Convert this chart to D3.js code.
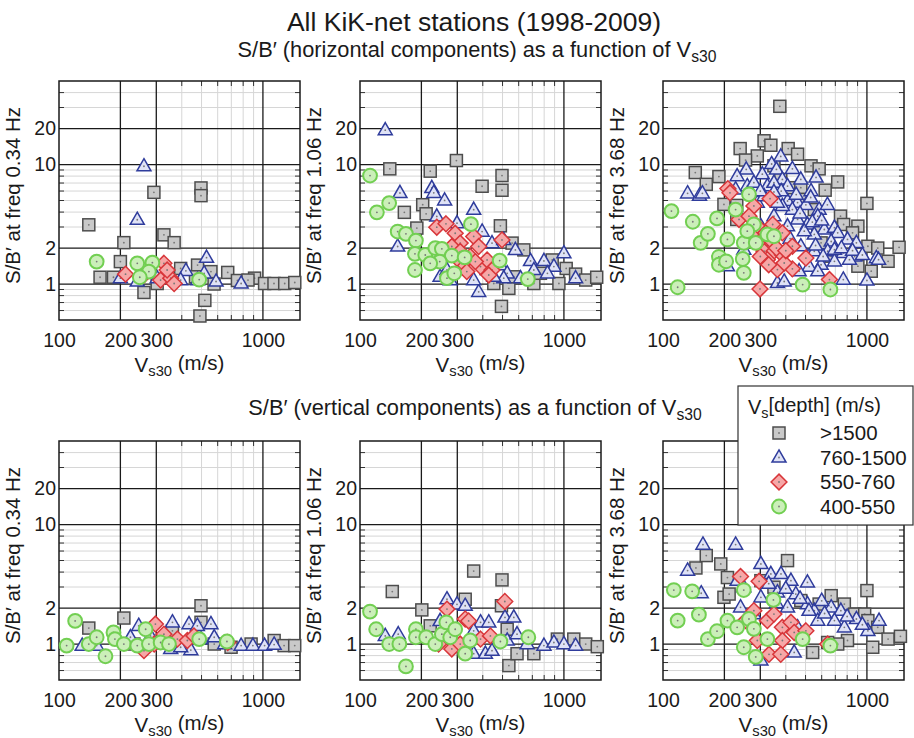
<!DOCTYPE html>
<html>
<head>
<meta charset="utf-8">
<script src="https://cdn.jsdelivr.net/npm/d3@7"></script>
<style>
  body { margin: 0; background: #fff; }
  svg { font-family: "Liberation Sans", Arial, Helvetica, sans-serif; }
</style>
</head>
<body>
<svg id="chart" width="914" height="738"></svg>
<script>
// ---- axis settings ----
const xTicks = [100, 200, 300, 1000];
const yTicks = [1, 2, 10, 20];
const xMajorGrid = [200, 300, 1000];
const yMajorGrid = [1, 2, 10, 20];
const xMinorGrid = [400, 500, 600, 700, 800, 900];
const yMinorGrid = [0.6, 0.7, 0.8, 0.9, 3, 4, 5, 6, 7, 8, 9, 30, 40];
const freqs = ['0.34', '1.06', '3.68'];
const groups = ['>1500', '760-1500', '550-760', '400-550'];

// ---- data: [Vs30 (m/s), S/B'] per depth-velocity group ----
// horizontal, 0.34 Hz
const h034Gray = [[140,3.13],[292,5.85],[497,6.37],[497,5.49],[208,2.22],[327,2.58],[367,2.22],[200,1.54],[159,1.14],[185,1.14],[395,1.35],[478,1.44],[556,1.27],[672,1.25],[910,1.12],[1019,1.01],[1133,1.01],[1279,1.01],[1433,1.03],[261,0.85],[519,0.73],[491,0.54],[303,1.01],[576,1.0],[750,1.07],[467,1.15],[845,1.08]];
const h034Blue = [[261,9.67],[242,3.45],[529,1.66],[419,1.29],[589,1.05],[782,1.01],[200,1.12],[242,1.05],[395,1.08],[478,1.08],[515,1.23],[303,1.12]];
const h034Red = [[212,1.21],[327,1.49],[315,1.08],[353,1.12],[367,1.01],[339,1.31],[261,1.19]];
const h034Green = [[153,1.54],[242,1.49],[287,1.51],[276,1.27],[249,1.14],[487,1.09]];

// horizontal, 1.06 Hz
const h106Gray = [[140,9.2],[221,8.8],[297,10.8],[397,6.58],[497,8.09],[497,6.09],[165,3.98],[203,4.61],[211,3.87],[190,2.94],[488,3.07],[557,2.2],[636,1.93],[876,1.59],[1026,1.35],[1141,1.21],[1279,1.08],[1448,1.14],[537,0.92],[494,0.65],[712,1.01],[945,1.01],[568,1.15],[767,1.23],[453,1.01]];
const h106Blue = [[133,19.4],[157,5.78],[225,6.37],[230,5.8],[260,5.01],[238,3.68],[361,4.19],[153,2.06],[299,3.23],[397,2.75],[444,2.2],[507,2.34],[578,1.93],[686,1.56],[798,1.56],[1000,1.81],[893,1.4],[1141,1.12],[382,0.86],[247,1.15],[267,1.31],[334,1.31],[420,1.31],[488,1.44],[527,1.23],[613,1.12],[712,1.31],[830,1.23],[507,1.12],[277,1.08],[361,1.08],[453,1.15]];
const h106Red = [[238,2.99],[264,3.19],[293,2.66],[310,2.2],[282,2.06],[361,2.5],[382,2.06],[347,1.7],[321,1.49],[299,1.64],[390,1.4],[420,1.59],[444,1.31],[428,1.19],[334,1.27],[497,2.34],[310,1.87],[368,1.54]];
const h106Green = [[112,8.09],[121,3.98],[139,4.76],[153,2.75],[168,2.63],[188,2.31],[186,1.79],[186,1.31],[209,1.75],[234,2.0],[252,1.97],[282,1.73],[246,1.54],[267,1.12],[290,1.23],[326,1.67],[350,3.17],[484,1.57],[665,1.1],[221,1.49]];

// horizontal, 3.68 Hz
const h368Gray = [[374,30.7],[313,15.8],[239,13.6],[290,11.8],[254,10.9],[338,14.5],[411,13.6],[457,12.2],[532,9.75],[583,9.2],[144,8.57],[188,7.93],[163,6.83],[424,6.4],[474,6.4],[624,6.1],[719,7.15],[474,5.11],[199,4.64],[230,3.47],[742,3.7],[1000,4.73],[903,3.05],[769,3.15],[850,2.68],[1011,2.07],[1130,2.0],[1438,2.03],[1270,1.55],[1050,1.28],[903,1.41],[668,1.71],[596,2.21],[574,3.05],[552,4.2],[378,7.5],[350,9.75],[230,4.55]];
const h368Blue = [[132,5.74],[151,5.5],[156,5.74],[378,11.7],[341,10.1],[360,9.1],[256,9.1],[231,8.0],[307,8.3],[431,9.2],[385,7.5],[563,7.8],[325,6.6],[259,6.6],[227,6.2],[532,6.0],[408,4.95],[457,4.8],[502,4.6],[583,4.2],[431,4.2],[385,4.5],[350,3.7],[457,3.47],[511,3.15],[574,3.7],[618,2.86],[693,2.96],[719,2.68],[803,2.36],[888,2.21],[668,2.27],[552,2.6],[493,2.77],[474,2.07],[552,1.88],[642,1.88],[766,1.82],[871,1.7],[821,1.6],[1112,1.65],[1140,1.6],[693,1.55],[596,1.45],[521,1.4],[465,1.28],[574,1.28],[766,1.09],[1000,1.07],[364,1.02],[393,1.05],[290,4.8],[302,3.05],[274,2.86],[207,1.41],[249,1.94],[408,3.05],[364,4.8],[313,5.45],[350,7.05],[279,7.05],[474,7.5],[408,6.6],[693,1.94],[330,2.3],[420,2.4],[470,3.9],[540,3.3],[600,3.4],[640,4.6],[530,5.3],[380,6.0],[450,5.6],[300,6.0],[350,5.9],[560,2.1],[610,1.7],[750,2.0],[850,1.9],[950,1.75]];
const h368Red = [[208,6.29],[213,5.8],[335,5.18],[279,4.5],[236,3.47],[264,3.7],[290,3.05],[345,3.15],[319,2.68],[385,2.68],[313,1.88],[350,1.88],[385,1.76],[431,2.07],[431,1.34],[502,1.65],[325,1.6],[364,1.32],[299,0.91],[655,1.09],[393,1.5],[290,2.21],[270,2.6],[340,2.3],[360,2.0],[300,1.7],[330,1.45],[400,1.9]];
const h368Green = [[110,4.08],[118,0.94],[140,3.32],[153,2.21],[166,2.63],[184,3.54],[207,2.36],[188,1.69],[188,1.45],[204,1.55],[227,4.2],[249,2.21],[246,1.62],[249,1.24],[264,5.63],[279,3.15],[285,2.21],[325,2.6],[350,2.51],[484,0.99],[662,0.9],[259,2.77]];

// vertical, 0.34 Hz
const v034Gray = [[497,2.09],[208,1.65],[140,1.36],[497,1.52],[360,1.29],[698,0.94],[875,1.0],[1135,1.07],[1270,0.97],[1432,0.97],[577,1.0],[233,1.0]];
const v034Blue = [[246,1.42],[360,1.52],[434,1.47],[477,1.42],[556,1.47],[353,0.91],[443,0.89],[395,0.94],[497,1.1],[577,1.14],[782,0.97],[893,0.97],[1019,0.97],[1135,0.99],[130,0.97],[153,0.97],[224,1.14],[281,1.17],[327,1.0],[649,1.0]];
const v034Red = [[297,1.47],[327,1.21],[381,1.1],[426,1.07],[261,0.88],[293,1.0],[459,1.17],[672,1.03]];
const v034Green = [[120,1.56],[109,0.97],[140,1.0],[153,1.14],[169,0.79],[185,1.25],[188,1.1],[208,1.0],[242,0.97],[266,1.33],[276,1.0],[315,1.03],[346,1.0],[487,1.1],[666,1.05]];

// vertical, 1.06 Hz
const v106Gray = [[144,2.75],[201,1.93],[221,1.42],[361,4.08],[497,3.44],[328,2.37],[494,2.09],[537,0.66],[527,1.33],[589,0.83],[712,0.83],[929,1.1],[1118,1.1],[1279,1.0],[1458,0.95]];
const v106Blue = [[133,1.17],[154,1.21],[267,2.37],[299,2.15],[328,2.09],[390,1.52],[428,1.52],[514,1.67],[568,1.67],[361,0.83],[412,0.83],[444,0.88],[527,1.07],[660,1.0],[798,0.97],[893,1.03],[1000,1.0],[1141,0.97],[247,1.56],[361,1.29],[589,1.21]];
const v106Red = [[513,2.27],[267,1.96],[328,1.62],[341,1.56],[390,1.1],[436,1.17],[282,0.91],[243,1.0],[310,1.0]];
const v106Green = [[112,1.87],[120,1.33],[139,1.0],[156,1.0],[168,0.65],[188,1.33],[188,1.14],[211,1.14],[234,1.0],[252,1.21],[265,1.52],[277,1.14],[293,1.33],[328,0.83],[347,1.07],[488,1.05],[669,1.14]];

// vertical, 3.68 Hz
const v368Gray = [[145,4.33],[163,5.5],[192,4.68],[207,3.6],[199,2.46],[211,2.62],[408,4.99],[302,3.39],[350,2.99],[474,2.31],[583,2.16],[668,2.54],[775,2.16],[871,1.78],[1000,2.8],[975,1.78],[1011,1.57],[1130,1.38],[1270,1.1],[1460,1.16],[1068,0.94],[803,1.07],[719,1.0],[542,0.85],[642,1.03]];
const v368Blue = [[132,4.12],[157,6.8],[227,6.8],[154,2.66],[302,4.68],[338,3.86],[379,3.86],[424,3.39],[511,3.28],[364,2.71],[448,2.62],[231,3.39],[249,2.99],[302,2.46],[408,2.03],[511,2.16],[552,1.9],[668,2.03],[745,1.9],[574,1.57],[693,1.57],[775,1.38],[888,1.62],[1147,1.57],[1011,1.29],[440,0.85],[302,0.73],[457,1.38],[240,2.03],[279,1.78],[330,3.2],[400,2.9],[470,2.4],[600,2.3],[620,1.8],[800,1.7],[950,1.45],[520,1.9],[360,2.2]];
const v368Red = [[240,3.67],[296,3.35],[279,1.9],[325,1.57],[350,1.78],[385,1.38],[424,1.52],[440,1.25],[385,1.07],[331,0.82],[290,1.07],[502,1.29],[378,0.82],[642,1.0],[254,1.57]];
const v368Green = [[113,2.83],[118,1.57],[139,2.76],[150,1.76],[166,1.1],[184,1.28],[207,1.57],[231,1.38],[249,2.83],[249,0.94],[264,1.62],[279,1.34],[285,0.78],[325,1.1],[348,2.34],[484,1.1],[662,0.97]];

// ---- styles ----
const markerStyle = [
  { type: 'square',   fill: '#c9c9c9', stroke: '#4d4d4d', sw: 1.5 },
  { type: 'triangle', fill: '#dfe2f6', stroke: '#2f3c9c', sw: 1.5 },
  { type: 'diamond',  fill: '#f6a7a7', stroke: '#d8363a', sw: 1.5 },
  { type: 'circle',   fill: '#cbefb9', stroke: '#72cf52', sw: 2 },
];

const svg = d3.select('#chart');
const W = 241, H = 239;

const panels = [
  { x: 59,  y: 81,  freq: freqs[0], series: [h034Gray, h034Blue, h034Red, h034Green] },
  { x: 360, y: 81,  freq: freqs[1], series: [h106Gray, h106Blue, h106Red, h106Green] },
  { x: 663, y: 81,  freq: freqs[2], series: [h368Gray, h368Blue, h368Red, h368Green] },
  { x: 59,  y: 441, freq: freqs[0], series: [v034Gray, v034Blue, v034Red, v034Green] },
  { x: 360, y: 441, freq: freqs[1], series: [v106Gray, v106Blue, v106Red, v106Green] },
  { x: 663, y: 441, freq: freqs[2], series: [v368Gray, v368Blue, v368Red, v368Green] },
];

function drawMarker(g, st) {
  if (st.type === 'square') {
    g.append('rect').attr('x', -6).attr('y', -6).attr('width', 12).attr('height', 12);
  } else if (st.type === 'triangle') {
    g.append('path').attr('d', 'M0,-7.6L7,4.6L-7,4.6Z');
  } else if (st.type === 'diamond') {
    g.append('path').attr('d', 'M0,-7.9L7.9,0L0,7.9L-7.9,0Z');
  } else {
    g.append('circle').attr('r', 6.9);
  }
  g.selectAll('rect,path,circle')
    .attr('fill', st.fill).attr('stroke', st.stroke).attr('stroke-width', st.sw)
    .attr('stroke-linejoin', 'miter');
  g.append('circle').attr('r', 0.9).attr('fill', '#777');
}

function subLabel(text, main, sub, rest) {
  text.append('tspan').text(main);
  text.append('tspan').attr('font-size', '0.72em').attr('dy', '0.3em').text(sub);
  text.append('tspan').attr('dy', '-0.3em').text(rest);
}

function renderPanel(p) {
  const x = d3.scaleLog().domain([100, 1520]).range([p.x, p.x + W]);
  const y = d3.scaleLog().domain([0.5, 50]).range([p.y + H, p.y]);
  const g = svg.append('g');

  // minor grid
  g.append('g').selectAll('line').data(xMinorGrid).join('line')
    .attr('x1', d => x(d)).attr('x2', d => x(d)).attr('y1', p.y).attr('y2', p.y + H)
    .attr('stroke', '#d6d6d6').attr('stroke-width', 1);
  g.append('g').selectAll('line').data(yMinorGrid).join('line')
    .attr('y1', d => y(d)).attr('y2', d => y(d)).attr('x1', p.x).attr('x2', p.x + W)
    .attr('stroke', '#d6d6d6').attr('stroke-width', 1);

  // minor ticks on all four sides
  const tk = 5;
  const ticks = g.append('g').attr('stroke', '#333').attr('stroke-width', 1);
  xMinorGrid.forEach(v => {
    ticks.append('line').attr('x1', x(v)).attr('x2', x(v)).attr('y1', p.y).attr('y2', p.y + tk);
    ticks.append('line').attr('x1', x(v)).attr('x2', x(v)).attr('y1', p.y + H).attr('y2', p.y + H - tk);
  });
  yMinorGrid.forEach(v => {
    ticks.append('line').attr('y1', y(v)).attr('y2', y(v)).attr('x1', p.x).attr('x2', p.x + tk);
    ticks.append('line').attr('y1', y(v)).attr('y2', y(v)).attr('x1', p.x + W).attr('x2', p.x + W - tk);
  });

  // major grid
  g.append('g').selectAll('line').data(xMajorGrid).join('line')
    .attr('x1', d => x(d)).attr('x2', d => x(d)).attr('y1', p.y).attr('y2', p.y + H)
    .attr('stroke', '#1a1a1a').attr('stroke-width', 1.3);
  g.append('g').selectAll('line').data(yMajorGrid).join('line')
    .attr('y1', d => y(d)).attr('y2', d => y(d)).attr('x1', p.x).attr('x2', p.x + W)
    .attr('stroke', '#1a1a1a').attr('stroke-width', 1.3);

  // frame
  g.append('rect').attr('x', p.x).attr('y', p.y).attr('width', W).attr('height', H)
    .attr('fill', 'none').attr('stroke', '#1a1a1a').attr('stroke-width', 1.5);

  // axes (labels only)
  const xAxis = g.append('g').attr('transform', `translate(0,${p.y + H})`)
    .call(d3.axisBottom(x).tickValues(xTicks).tickFormat(d3.format('d')).tickSize(0).tickPadding(13));
  const yAxis = g.append('g').attr('transform', `translate(${p.x},0)`)
    .call(d3.axisLeft(y).tickValues(yTicks).tickFormat(d3.format('d')).tickSize(0).tickPadding(3));
  [xAxis, yAxis].forEach(a => {
    a.select('.domain').remove();
    a.selectAll('text').attr('font-size', 19.5).attr('fill', '#1a1a1a')
      .attr('font-family', '"Liberation Sans", Arial, sans-serif');
  });

  // axis titles
  const xl = g.append('text').attr('x', p.x + W / 2).attr('y', p.y + H + 52)
    .attr('text-anchor', 'middle').attr('font-size', 20.5).attr('fill', '#1a1a1a');
  subLabel(xl, 'V', 's30', ' (m/s)');
  g.append('text')
    .attr('transform', `translate(${p.x - 39},${p.y + H / 2 - 5}) rotate(-90)`)
    .attr('text-anchor', 'middle').attr('font-size', 20.5).attr('fill', '#1a1a1a')
    .text(`S/B\u2032 at freq ${p.freq} Hz`);

  // points
  p.series.forEach((data, i) => {
    const st = markerStyle[i];
    g.append('g').selectAll('g').data(data).join('g')
      .attr('transform', d => `translate(${x(d[0])},${y(d[1])})`)
      .each(function () { drawMarker(d3.select(this), st); });
  });
}

panels.forEach(renderPanel);

// ---- titles ----
svg.append('text').attr('x', 474).attr('y', 31).attr('text-anchor', 'middle')
  .attr('font-size', 26.5).attr('fill', '#1a1a1a').text('All KiK-net stations (1998-2009)');
const st1 = svg.append('text').attr('x', 477).attr('y', 57).attr('text-anchor', 'middle')
  .attr('font-size', 21.8).attr('fill', '#1a1a1a');
subLabel(st1, 'S/B\u2032 (horizontal components) as a function of V', 's30', '');
const st2 = svg.append('text').attr('x', 475).attr('y', 415).attr('text-anchor', 'middle')
  .attr('font-size', 21.8).attr('fill', '#1a1a1a');
subLabel(st2, 'S/B\u2032 (vertical components) as a function of V', 's30', '');

// ---- legend ----
const lg = svg.append('g');
lg.append('rect').attr('x', 738).attr('y', 386).attr('width', 175).attr('height', 139)
  .attr('fill', '#fff').attr('stroke', '#333').attr('stroke-width', 1.2);
const lt = lg.append('text').attr('x', 748).attr('y', 414).attr('font-size', 20).attr('fill', '#1a1a1a');
subLabel(lt, 'V', 's', '[depth] (m/s)');
groups.forEach((name, i) => {
  const cy = 433 + i * 24.5;
  const m = lg.append('g').attr('transform', `translate(779,${cy})`);
  drawMarker(m, markerStyle[i]);
  lg.append('text').attr('x', 820).attr('y', cy + 7).attr('font-size', 20.5)
    .attr('fill', '#1a1a1a').text(name);
});
</script>
</body>
</html>
